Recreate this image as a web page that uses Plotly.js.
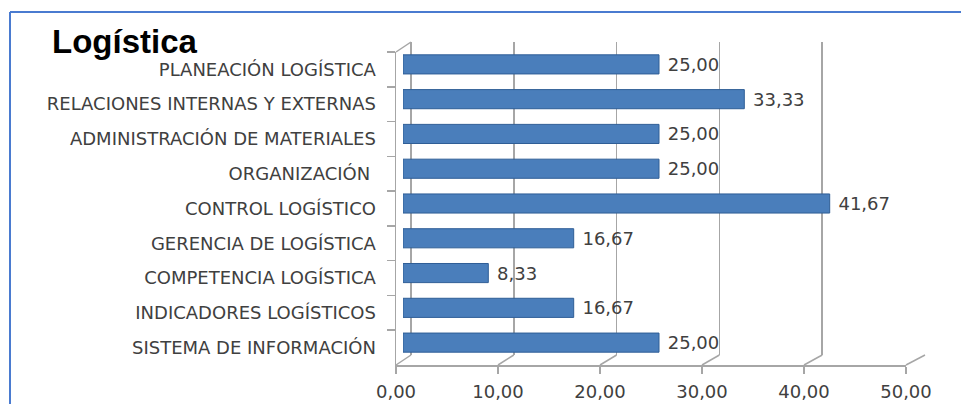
<!DOCTYPE html>
<html>
<head>
<meta charset="utf-8">
<script src="https://cdn.plot.ly/plotly-3.0.1.min.js"></script>
<style>html,body{margin:0;padding:0;background:#fff;}</style>
</head>
<body>
<div id="chart" style="width:961px;height:404px;"></div>
<script>
// ---- data ----
var categories = [
  "PLANEACIÓN LOGÍSTICA",
  "RELACIONES INTERNAS Y EXTERNAS",
  "ADMINISTRACIÓN DE MATERIALES",
  "ORGANIZACIÓN ",
  "CONTROL LOGÍSTICO",
  "GERENCIA DE LOGÍSTICA",
  "COMPETENCIA LOGÍSTICA",
  "INDICADORES LOGÍSTICOS",
  "SISTEMA DE INFORMACIÓN"
];
var values = [25.00, 33.33, 25.00, 25.00, 41.67, 16.67, 8.33, 16.67, 25.00];
var tickValues = [0, 10, 20, 30, 40, 50];
var titleText = "Logística";

// ---- geometry helpers (pixels -> paper) ----
var W = 961, H = 404;
function px(x) { return x / W; }
function py(y) { return 1 - y / H; }

var back = {x0: 411, x1: 925, y0: 42, y1: 355};   // back wall
var front = {x0: 396, x1: 906, y0: 52, y1: 365};  // front axes
var bars = {x0: 403, x1: 915, y0: 47, y1: 360};   // bar depth plane
var gridCol = '#A6A6A6';
var textCol = '#404040';
var font = 'DejaVu Sans';
var xmax = 50;

var shapes = [];
// slanted floor lines from front ticks to back gridlines
tickValues.forEach(function (v) {
  var fx = front.x0 + (front.x1 - front.x0) * v / xmax;
  var bx = back.x0 + (back.x1 - back.x0) * v / xmax;
  shapes.push({type: 'line', xref: 'paper', yref: 'paper',
    x0: px(fx), y0: py(front.y1), x1: px(bx), y1: py(back.y1),
    line: {color: gridCol, width: 1.5}, layer: 'below'});
});
// left wall top diagonal
shapes.push({type: 'line', xref: 'paper', yref: 'paper',
  x0: px(front.x0), y0: py(front.y0), x1: px(back.x0), y1: py(back.y0),
  line: {color: gridCol, width: 1.5}, layer: 'below'});
// blue frame
shapes.push({type: 'line', xref: 'paper', yref: 'paper',
  x0: px(10), y0: py(12), x1: px(10), y1: 0, line: {color: '#4A7BD0', width: 2}});
shapes.push({type: 'line', xref: 'paper', yref: 'paper',
  x0: px(10), y0: py(12), x1: 1, y1: py(12), line: {color: '#4A7BD0', width: 2}});

var traces = [
  // back wall (grid only)
  {type: 'scatter', x: [], y: [], xaxis: 'x', yaxis: 'y', hoverinfo: 'skip', showlegend: false},
  // front axes carrying category labels
  {type: 'scatter', x: values, y: categories, xaxis: 'x2', yaxis: 'y2', mode: 'markers',
   marker: {opacity: 0}, hoverinfo: 'skip', showlegend: false},
  // bars
  {type: 'bar', orientation: 'h', x: values, y: categories, xaxis: 'x3', yaxis: 'y3',
   marker: {color: '#4A7EBB', line: {color: '#2F5E96', width: 1}},
   text: values, texttemplate: '\u00a0%{x:.2f}', textposition: 'outside',
   constraintext: 'none', cliponaxis: false,
   textfont: {family: font, size: 18, color: textCol},
   hoverinfo: 'skip', showlegend: false}
];

var layout = {
  width: W, height: H,
  margin: {l: 0, r: 0, t: 0, b: 0},
  paper_bgcolor: '#ffffff', plot_bgcolor: 'rgba(0,0,0,0)',
  separators: ',.',
  showlegend: false,
  bargap: 0.45,
  title: {text: '<b>' + titleText + '</b>', xref: 'paper', yref: 'paper',
    x: px(52), xanchor: 'left', y: py(41), yanchor: 'middle',
    font: {family: 'Liberation Sans', size: 33, color: '#000000'}},
  xaxis: {domain: [px(back.x0), px(back.x1)], anchor: 'y', range: [0, xmax],
    tickvals: tickValues, showgrid: true, gridcolor: gridCol, gridwidth: 1.5,
    zeroline: true, zerolinecolor: gridCol, zerolinewidth: 1.5,
    showticklabels: false, ticks: '', showline: false, fixedrange: true},
  yaxis: {domain: [py(back.y1), py(back.y0)], anchor: 'x', range: [0, 1],
    showgrid: false, zeroline: false, showticklabels: false, ticks: '', showline: false},
  xaxis2: {domain: [px(front.x0), px(front.x1)], anchor: 'y2', range: [0, xmax],
    tickvals: tickValues, tickformat: '.2f', ticks: 'outside', ticklen: 7,
    tickcolor: gridCol, tickwidth: 1.5, showline: true, linecolor: gridCol, linewidth: 1.5,
    showgrid: false, zeroline: false, ticklabelstandoff: 3,
    tickfont: {family: font, size: 18, color: textCol}},
  yaxis2: {domain: [py(front.y1), py(front.y0)], anchor: 'x2', type: 'category',
    categoryorder: 'array', categoryarray: categories, range: [8.5, -0.5],
    tickson: 'boundaries', ticks: 'outside', ticklen: 8, tickcolor: gridCol, tickwidth: 1.5,
    showline: true, linecolor: gridCol, linewidth: 1.5, showgrid: false, zeroline: false,
    ticklabelstandoff: 15,
    tickfont: {family: font, size: 18, color: textCol}},
  xaxis3: {domain: [px(bars.x0), px(bars.x1)], anchor: 'y3', range: [0, xmax], visible: false},
  yaxis3: {domain: [py(bars.y1), py(bars.y0)], anchor: 'x3', type: 'category',
    categoryorder: 'array', categoryarray: categories, range: [8.5, -0.5], visible: false},
  shapes: shapes
};

Plotly.newPlot('chart', traces, layout, {displayModeBar: false, staticPlot: true});
</script>
</body>
</html>
